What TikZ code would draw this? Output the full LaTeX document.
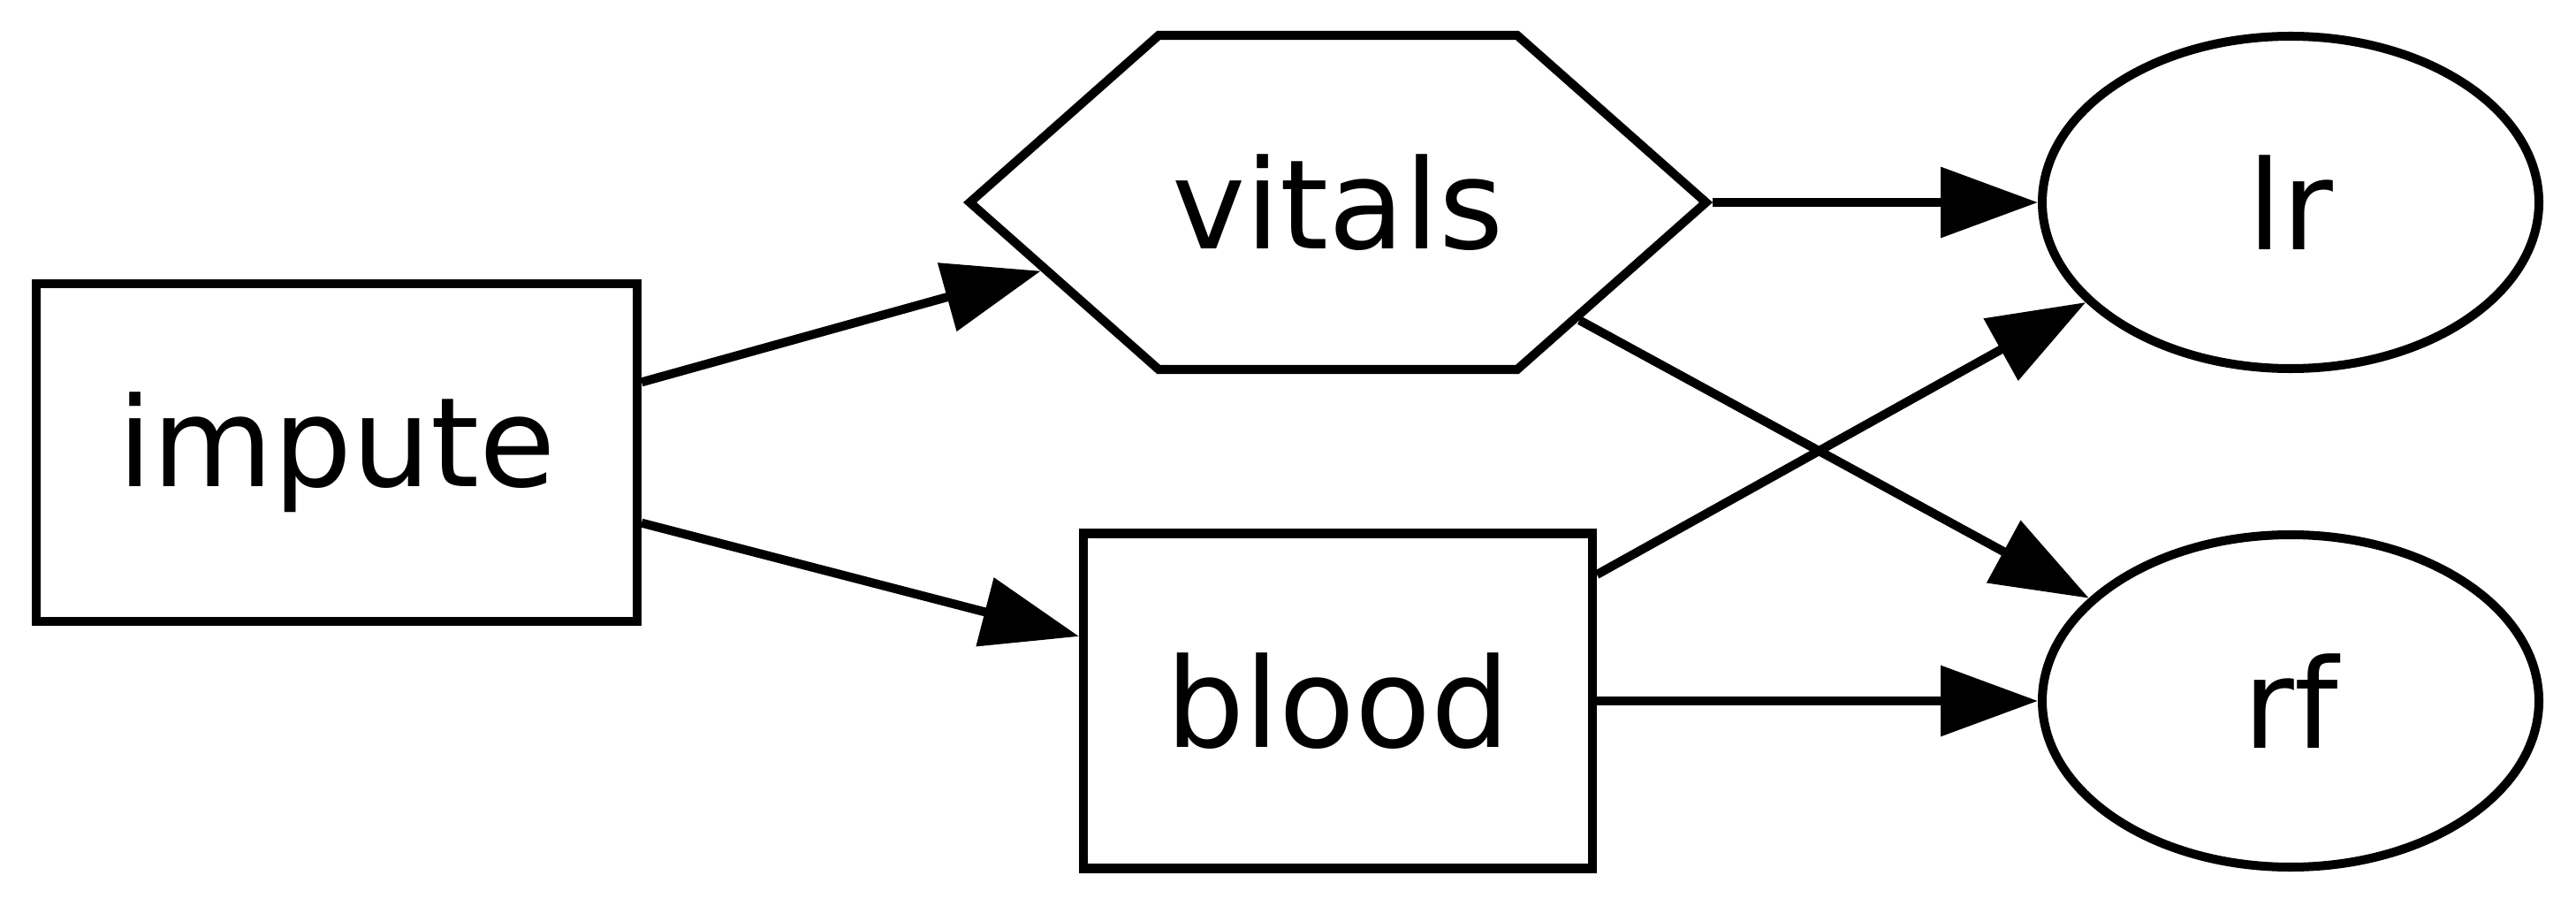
\documentclass[tikz,border=0pt]{standalone}
\usepackage{fontspec}
\setmainfont{DejaVu Sans}
\usetikzlibrary{arrows.meta, positioning, shapes.geometric, shapes.symbols}

\begin{document}
\begin{tikzpicture}[
    >={Triangle[length=1.1cm, width=0.78cm]},
    line width=2.85pt,
    every node/.style={font=\fontsize{40}{48}\selectfont},
    box/.style={draw, rectangle, inner sep=0pt},
    hexbox/.style={draw, signal, signal to=west and east, signal pointer angle=83,
      minimum width=8.33cm, minimum height=3.78cm, inner sep=0pt},
    oval/.style={draw, ellipse, minimum width=5.62cm, minimum height=3.76cm, inner sep=0pt}
  ]
    \useasboundingbox (0,0) rectangle (29.15,10.24);

    % Nodes - graphviz style layout, left to right
    \node[box, minimum width=6.8cm, minimum height=3.82cm] (impute) at (3.81,5.12) {impute};
    \node[hexbox, on grid, above right=2.83cm and 11.33cm of impute] (vitals) {vitals};
    \node[box, minimum width=5.76cm, minimum height=3.79cm, on grid, below=5.64cm of vitals] (blood) {blood};
    \node[oval, on grid, right=10.78cm of vitals] (lr) {lr};
    \node[oval, on grid, right=10.78cm of blood] (rf) {rf};

    % Edges
    \draw[->] (impute.13.6) -- (vitals.193.5);
    \draw[->] (impute.-13.6) -- (blood.166.7);
    \draw[->] (vitals.east) -- (lr.west);
    \draw[->] (vitals.-26.8) -- (rf.153.4);
    \draw[->] (blood.26.4) -- (lr.206.6);
    \draw[->] (blood.east) -- (rf.west);

\end{tikzpicture}
\end{document}
